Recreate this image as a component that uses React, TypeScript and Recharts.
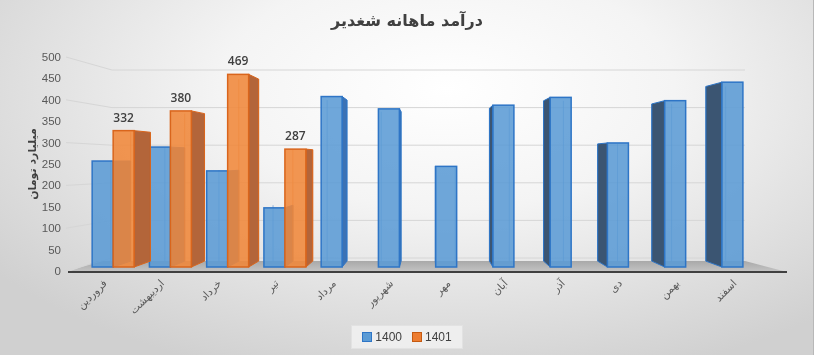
import React from 'react';
import { BarChart, Bar, XAxis, YAxis, CartesianGrid, Legend, LabelList } from 'recharts';

// Months of the Persian calendar (category axis)
const months = ['فروردین', 'اردیبهشت', 'خرداد', 'تیر', 'مرداد', 'شهریور', 'مهر', 'آبان', 'آذر', 'دی', 'بهمن', 'اسفند'];

// Revenue in billion toman
const revenue1400 = [258, 292, 234, 144, 415, 385, 245, 394, 413, 302, 405, 450];
const revenue1401: (number | null)[] = [332, 380, 469, 287, null, null, null, null, null, null, null, null];

const yTicks = [0, 50, 100, 150, 200, 250, 300, 350, 400, 450, 500];

const seriesNames = ['1400', '1401'];
const seriesColors = ['#5b9bd5', '#ed7d31'];

const data = months.map((m, i) => ({
  month: m,
  '1400': revenue1400[i],
  '1401': revenue1401[i],
}));

const W = 814;
const H = 355;
const VP_X = 430;
const VP_Y = 160;
const K = 0.055;

// fake 3D box: back face shrunk toward a vanishing point
const makeBox = (front: string, stroke: string, rightSide: string, leftSide: string) => (props: any) => {
  const { x, y, width, height } = props;
  if (height == null || isNaN(height)) return null;
  const xl = x, xr = x + width, yt = y, yb = y + height;
  const bx = (v: number) => v + (VP_X - v) * K;
  const by = (v: number) => v + (VP_Y - v) * K;
  const xl2 = bx(xl), xr2 = bx(xr), yt2 = by(yt), yb2 = by(yb);
  let side = null;
  if (xr < VP_X) {
    side = <polygon points={`${xr},${yt} ${xr2},${yt2} ${xr2},${yb2} ${xr},${yb}`} fill={rightSide} stroke={stroke} strokeWidth={1} />;
  } else if (xl > VP_X) {
    side = <polygon points={`${xl},${yt} ${xl2},${yt2} ${xl2},${yb2} ${xl},${yb}`} fill={leftSide} stroke={stroke} strokeWidth={1} />;
  }
  return (
    <g>
      {side}
      <line x1={xl2} y1={yt2} x2={xl2} y2={yb2} stroke={stroke} strokeOpacity={0.5} />
      <line x1={xr2} y1={yt2} x2={xr2} y2={yb2} stroke={stroke} strokeOpacity={0.5} />
      <rect x={xl} y={yt} width={width} height={height} fill={front} fillOpacity={0.88} stroke={stroke} strokeWidth={1.5} />
    </g>
  );
};

const BlueBox = makeBox('#5b9bd5', '#2e75c6', '#3c72b4', '#3b5572');
const OrangeBox = makeBox('#f0873a', '#d9651c', '#b3653a', '#8a4a26');

// gridlines run along the left side wall, then across the back wall
const gridLine = (props: any) => {
  const { y1, index } = props;
  const backY = 258 - (271 - y1) * 0.8785;
  return (
    <path
      key={`grid-${index}`}
      d={`M66,${y1} L112,${backY} L745,${backY}`}
      fill="none"
      stroke="#d6d6d6"
      strokeWidth={1}
    />
  );
};

const MonthTick = (props: any) => {
  const { x, y, payload } = props;
  return (
    <g transform={`translate(${x - 6},${y + 5})`}>
      <text textAnchor="end" transform="rotate(-45)" fontSize={10.5} fill="#595959" fontFamily="DejaVu Sans">
        {payload.value}
      </text>
    </g>
  );
};

const renderLegend = () => (
  <div style={{ display: 'flex', justifyContent: 'center', height: 24 }}>
    <div
      style={{
        display: 'flex',
        alignItems: 'center',
        gap: 6,
        padding: '0 10px',
        height: 22,
        background: 'rgba(240,240,240,0.9)',
        border: '1px solid #e2e2e2',
        fontFamily: 'Liberation Sans',
        fontSize: 12,
        color: '#404040',
      }}
    >
      {seriesNames.map((n, i) => (
        <span key={n} style={{ display: 'flex', alignItems: 'center', gap: 3, marginRight: i === 0 ? 4 : 0 }}>
          <span style={{ width: 8, height: 8, background: seriesColors[i], border: `1px solid ${i === 0 ? '#2e75c6' : '#c55a11'}` }} />
          {n}
        </span>
      ))}
    </div>
  </div>
);

export default function App() {
  return (
    <div
      style={{
        position: 'fixed',
        left: 0,
        top: 0,
        width: W,
        height: H,
        background: 'radial-gradient(ellipse 70% 85% at 55% 25%, #ffffff 0%, #f4f4f4 40%, #d0d0d0 100%)',
        borderRight: '1px solid #b8b8b8',
        boxSizing: 'border-box',
        overflow: 'hidden',
      }}
    >
      {/* floor of the 3D plot */}
      <svg width={W} height={H} style={{ position: 'absolute', left: 0, top: 0 }}>
        <defs>
          <linearGradient id="floor" x1="0" y1="0" x2="0" y2="1">
            <stop offset="0%" stopColor="#a9a9a9" />
            <stop offset="100%" stopColor="#c4c4c4" />
          </linearGradient>
        </defs>
        <polygon points="68,272 98,261 745,261 787,272" fill="url(#floor)" />
        <line x1={68} y1={272} x2={787} y2={272} stroke="#404040" strokeWidth={2} />
      </svg>
      <div
        style={{
          position: 'absolute',
          top: 11,
          left: 0,
          width: W,
          textAlign: 'center',
          fontFamily: 'DejaVu Sans',
          fontWeight: 'bold',
          fontSize: 16,
          color: '#404040',
        }}
      >
        درآمد ماهانه شغدیر
      </div>
      <div style={{ position: 'absolute', left: 0, top: 0 }}>
        <BarChart
          width={W}
          height={H}
          data={data}
          margin={{ top: 57, right: 42, bottom: 10, left: 0 }}
          barCategoryGap="12.5%"
          barGap={0}
        >
          <CartesianGrid yAxisId="labels" vertical={false} horizontal={gridLine} />
          <XAxis
            dataKey="month"
            axisLine={false}
            tickLine={false}
            interval={0}
            height={50}
            tick={<MonthTick />}
          />
          <YAxis
            yAxisId="labels"
            orientation="left"
            type="number"
            domain={[0, 500]}
            ticks={yTicks}
            allowDataOverflow
            width={85}
            axisLine={false}
            tickLine={false}
            tickMargin={18}
            tick={{ fontSize: 11.5, fill: '#595959', fontFamily: 'Liberation Sans' }}
            label={{
              content: (p: any) => {
                const vb = p.viewBox;
                const cx = vb.x + 32;
                const cy = vb.y + vb.height / 2;
                return (
                  <text
                    x={cx}
                    y={cy}
                    textAnchor="middle"
                    dominantBaseline="central"
                    transform={`rotate(-90, ${cx}, ${cy})`}
                    fontSize={11}
                    fontWeight="bold"
                    fill="#404040"
                    fontFamily="DejaVu Sans"
                  >
                    میلیارد تومان
                  </text>
                );
              },
            }}
          />
          <YAxis yAxisId="bars" orientation="right" type="number" domain={[-9.74, 511.3]} allowDataOverflow hide width={0} />
          <Legend content={renderLegend} wrapperStyle={{ top: 325, left: 0, width: W, height: 24 }} />
          <Bar yAxisId="bars" dataKey="1400" name="1400" fill={seriesColors[0]} shape={BlueBox} isAnimationActive={false} />
          <Bar yAxisId="bars" dataKey="1401" name="1401" fill={seriesColors[1]} shape={OrangeBox} isAnimationActive={false}>
            <LabelList
              dataKey="1401"
              position="top"
              offset={9}
              fill="#404040"
              fontSize={12}
              fontWeight={600}
              fontFamily="Open Sans"
            />
          </Bar>
        </BarChart>
      </div>
    </div>
  );
}
